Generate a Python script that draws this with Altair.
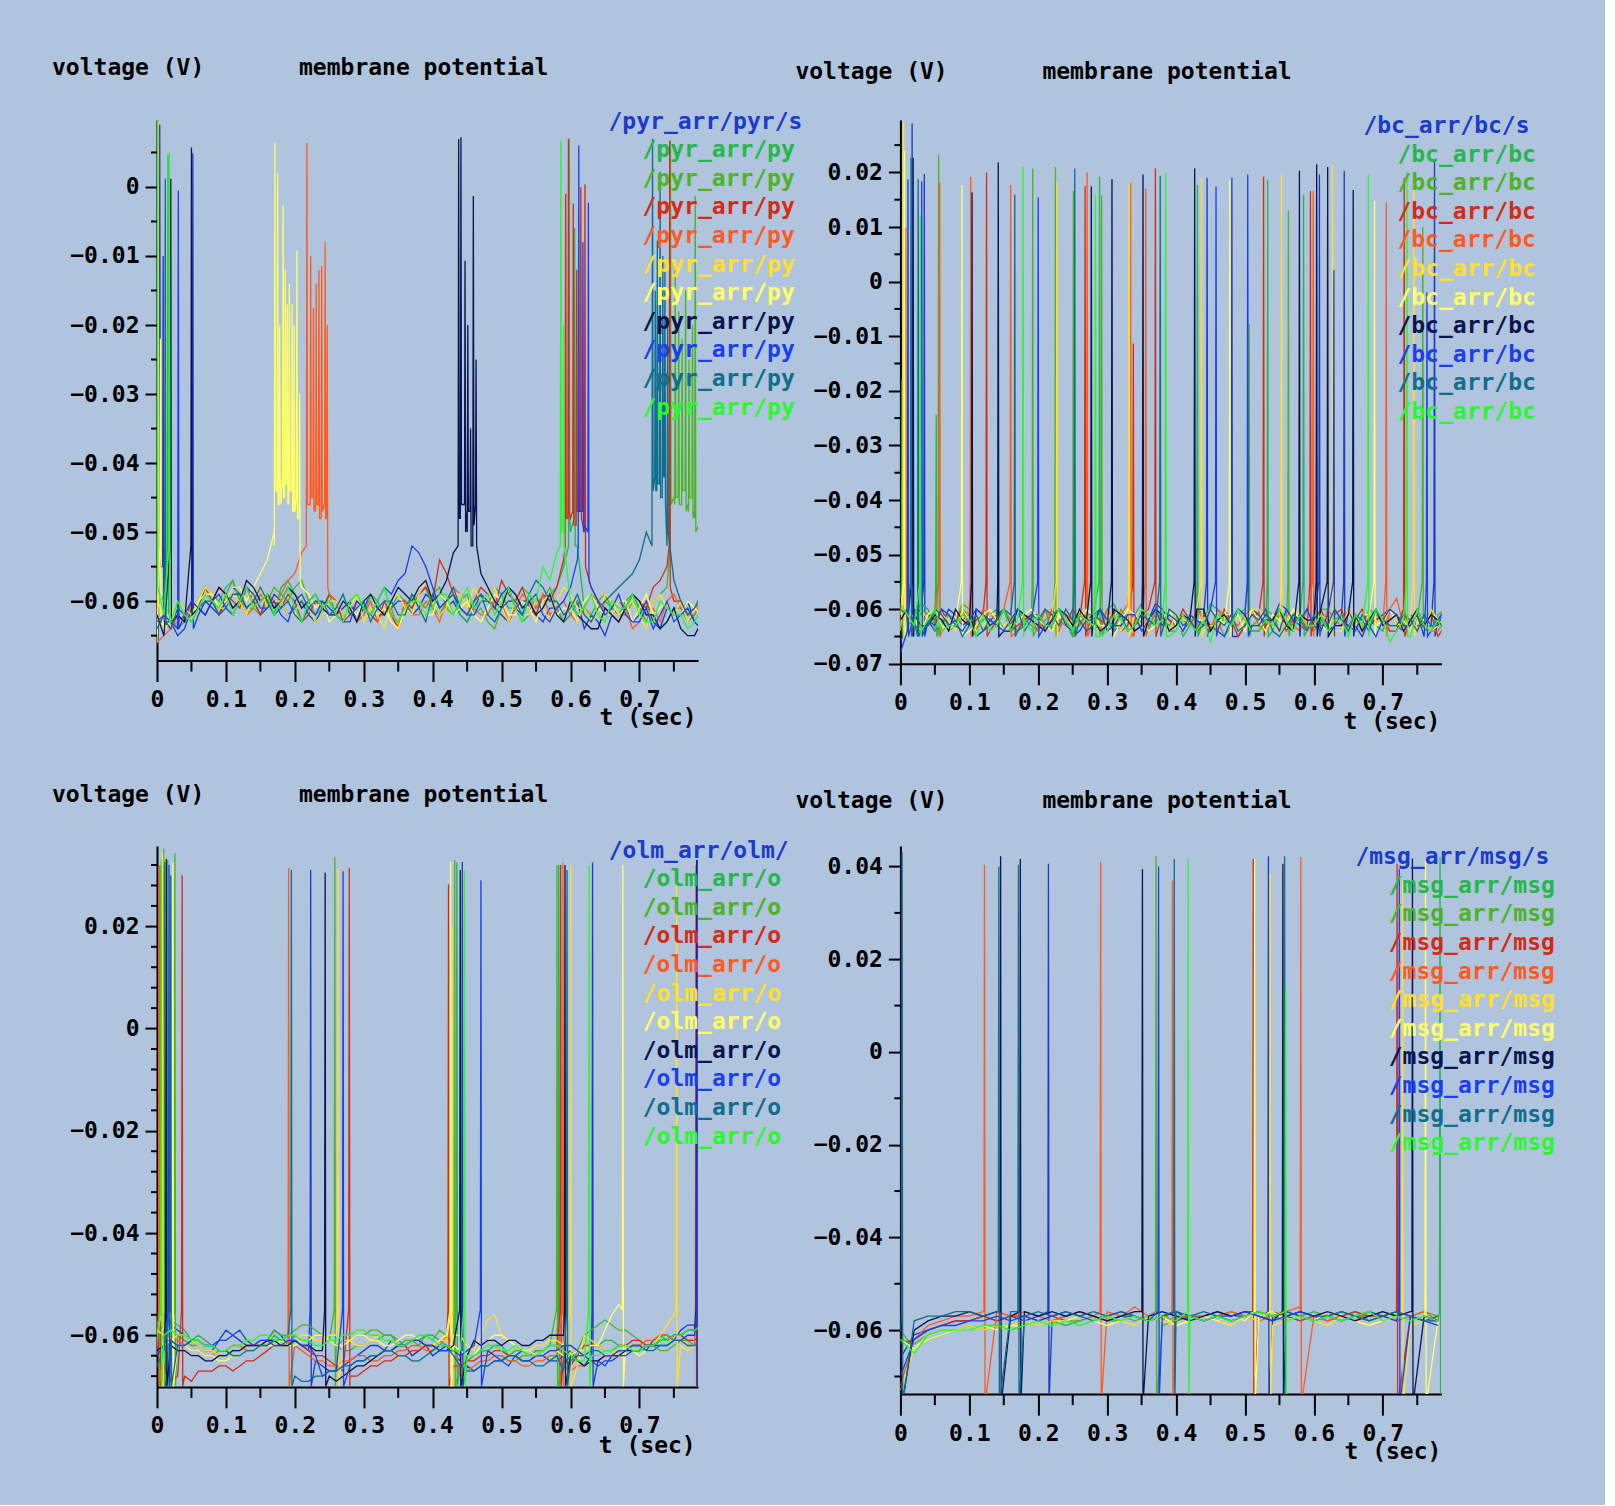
import altair as alt
import pandas as pd

alt.data_transformers.disable_max_rows()

FONT = "DejaVu Sans Mono"
BG = "#B0C4DE"
PAL = ["#1a3cc8", "#22b84a", "#4ab424", "#d42c14", "#ff5a1e", "#ffe02a",
       "#ffff66", "#0a1450", "#1a40ec", "#0f6e8e", "#2af82a"]

# baseline samples (values in mV): even grid 0.00,0.02,... and odd grid 0.01,0.03,...
TIMES = [round(0.02 * i, 2) for i in range(40)]
TIMES_ODD = [round(0.01 + 0.02 * i, 2) for i in range(40)]
X_MAJOR = [0, 0.1, 0.2, 0.3, 0.4, 0.5, 0.6, 0.7]
X_MINOR = [0.05, 0.15, 0.25, 0.35, 0.45, 0.55, 0.65, 0.75]

# ---------------- pyr ----------------
PYR_BASE = [
    "-60 -63 -64 -62 -61 -60 -59 -60 -61 -60  -61 -62 -61 -62 -60 -61 -62 -61 -60 -61  -60 -61 -62 -61 -60 -62 -61 -60 -63 -61  -62 -64 -63 -62 -61 -62 -63 -61 -62 -63",
    "-58 -62 -63 -61 -60 -59 -60 -61 -60 -58  -59 -61 -62 -60 -61 -62 -60 -61 -60 -59  -61 -60 -62 -61 -60 -59 -61 -62 -61 -58  -50 -61 -62 -61 -60 -61 -62 -63 -61 -62",
    "-62 -63 -61 -60 -59 -58 -60 -61 -60 -59  -58 -60 -61 -62 -60 -61 -60 -62 -61 -60  -59 -61 -60 -62 -63 -61 -60 -59 -60 -61  -62 -61 -60 -61 -62 -61 -60 -58 -46 -47",
    "-60 -64 -63 -61 -60 -59 -61 -60 -59 -61  -60 -62 -61 -60 -62 -61 -63 -62 -60 -59  -60 -56 -61 -60 -59 -57 -60 -61 -59 -58  -48 -50 -60 -62 -61 -60 -58 -55 -60 -61",
    "-66 -64 -62 -61 -60 -59 -60 -61 -60 -59  -56 -46 -47 -60 -61 -62 -63 -61 -60 -62  -61 -60 -59 -61 -62 -60 -61 -60 -59 -61  -62 -61 -60 -62 -61 -63 -61 -60 -61 -62",
    "-63 -62 -61 -60 -59 -61 -60 -59 -61 -60  -62 -61 -62 -60 -61 -63 -62 -60 -61 -59  -60 -61 -59 -58 -60 -61 -60 -62 -61 -60  -59 -61 -62 -60 -61 -62 -60 -61 -60 -61",
    "-66 -63 -62 -60 -59 -60 -58 -58 -54 -46  -47 -59 -60 -62 -61 -60 -62 -63 -61 -60  -62 -60 -61 -62 -61 -60 -62 -61 -60 -62  -61 -60 -61 -62 -60 -61 -62 -60 -62 -61",
    "-62 -64 -63 -61 -60 -59 -60 -58 -59 -60  -59 -60 -61 -62 -61 -60 -61 -60 -59 -58  -60 -57 -48 -49 -58 -61 -59 -60 -61 -62  -60 -63 -64 -62 -61 -60 -62 -63 -64 -65",
    "-64 -63 -62 -61 -60 -61 -60 -59 -61 -62  -60 -61 -60 -62 -63 -61 -60 -59 -56 -53  -58 -60 -61 -62 -60 -59 -61 -60 -62 -61  -58 -49 -60 -61 -62 -63 -64 -60 -62 -63",
    "-63 -64 -62 -61 -60 -61 -59 -60 -60 -61  -62 -61 -60 -61 -62 -60 -61 -60 -62 -61  -59 -60 -61 -60 -62 -61 -60 -59 -58 -60  -61 -62 -61 -59 -57 -54 -44 -52 -60 -61",
    "-60 -63 -62 -61 -60 -59 -60 -61 -59 -60  -61 -60 -61 -62 -60 -61 -60 -62 -61 -60  -61 -59 -60 -61 -59 -60 -61 -59 -55 -53  -60 -61 -62 -60 -61 -62 -63 -61 -62 -63",
]
PYR_ODD = [
    "-63 -65 -61 -60 -62 -58 -61 -62 -59 -62  -60 -63 -60 -61 -63 -59 -62 -60 -62 -59  -62 -60 -63 -59 -61 -63 -60 -62 -61 -63  -60 -62 -65 -60 -63 -60 -64 -62 -60 -64",
    "-60 -64 -62 -59 -61 -57 -62 -59 -62 -57  -60 -63 -59 -62 -63 -59 -62 -59 -61 -58  -62 -59 -63 -60 -58 -61 -63 -60 -59 -55  -52 -63 -60 -62 -59 -62 -64 -61 -63 -60",
    "-64 -60 -62 -58 -60 -57 -61 -62 -58 -60  -57 -62 -59 -63 -59 -62 -58 -63 -59 -61  -58 -62 -59 -61 -64 -60 -58 -61 -58 -63  -60 -62 -59 -62 -60 -63 -59 -45 -46 -48",
    "-63 -62 -60 -58 -62 -60 -58 -62 -60 -59  -63 -60 -59 -63 -60 -62 -60 -64 -61 -58  -54 -59 -62 -58 -61 -59 -58 -62 -60 -54  -47 -58 -61 -63 -59 -61 -57 -60 -62 -60",
    "-65 -63 -60 -62 -58 -61 -62 -59 -61 -57  -53 -46 -59 -62 -63 -60 -61 -64 -62 -60  -63 -58 -61 -62 -60 -63 -59 -61 -62 -60  -63 -59 -62 -60 -64 -61 -63 -59 -62 -60",
    "-64 -60 -62 -58 -61 -59 -62 -58 -60 -62  -59 -63 -60 -62 -59 -61 -64 -59 -62 -57  -62 -59 -61 -60 -58 -63 -62 -60 -63 -58  -61 -63 -59 -62 -60 -64 -59 -62 -63 -59",
    "-64 -61 -63 -59 -61 -58 -60 -56 -50 -45  -58 -61 -63 -60 -62 -59 -61 -64 -60 -62  -59 -62 -60 -63 -59 -62 -60 -63 -59 -61  -63 -59 -62 -60 -63 -59 -61 -63 -60 -62",
    "-65 -62 -60 -62 -58 -61 -57 -60 -61 -58  -61 -59 -62 -60 -63 -59 -62 -58 -60 -57  -59 -53 -47 -56 -60 -58 -61 -62 -59 -63  -62 -64 -61 -63 -59 -62 -64 -61 -65 -63",
    "-62 -64 -60 -62 -59 -62 -58 -61 -60 -63  -59 -62 -61 -63 -60 -62 -58 -57 -52 -55  -61 -59 -62 -60 -61 -58 -62 -59 -63 -60  -54 -58 -62 -59 -63 -61 -62 -63 -61 -64",
    "-62 -61 -63 -60 -62 -59 -61 -58 -62 -60  -63 -60 -62 -59 -61 -63 -60 -62 -59 -63  -61 -58 -62 -59 -63 -60 -62 -57 -60 -62  -59 -63 -60 -58 -56 -50 -44 -57 -62 -59",
    "-62 -60 -63 -59 -61 -62 -58 -60 -62 -58  -63 -59 -60 -63 -59 -62 -58 -63 -60 -62  -59 -62 -58 -60 -62 -58 -63 -60 -57 -50  -62 -59 -63 -61 -59 -63 -60 -62 -64 -61",
]
# spikes: (time s, peak mV[, trough mV])
PYR_SPK = [
    [(0.004, 9.0, -55), (0.009, -10, -62), (0.052, 4.9, -64)],
    [(0.016, 4.6, -62), (0.598, 7.0, -48), (0.606, -6, -52)],
    [(0.002, 9.5, -60), (0.745, 6.7, -46), (0.752, -12, -45), (0.757, -18, -46), (0.762, -22, -44),
     (0.767, -15, -47), (0.772, -25, -45), (0.777, -20, -48), (0.781, -1.3, -50)],
    [(0.001, 9.5, -63), (0.593, -1, -48), (0.597, 7.0, -47), (0.604, -2.4, -49), (0.609, -12, -47),
     (0.615, 0, -48), (0.621, 0.4, -55), (0.744, 6.7, -58)],
    [(0.2175, 6.4, -46), (0.223, -10, -45), (0.227, -17.5, -47), (0.231, -14, -46), (0.235, -12, -48),
     (0.239, -11.5, -46), (0.244, -8, -48), (0.247, -20, -58)],
    [(0.0015, 9.6, -60), (0.012, -15, -62)],
    [(0.005, -22, -62), (0.171, 6.4, -44), (0.175, 2, -46), (0.178, -20, -42), (0.183, -2.6, -45),
     (0.186, -12, -43), (0.189, -17, -46), (0.192, -14, -44), (0.196, -17, -47), (0.199, -20, -45),
     (0.203, -9.2, -48), (0.207, -30, -57)],
    [(0.020, 1.2, -63), (0.050, 5.7, -62), (0.4377, 6.9, -48), (0.441, 7.2, -46), (0.447, -10.7, -50),
     (0.451, -20, -47), (0.455, -35, -52), (0.459, -1.3, -46), (0.463, -25, -52)],
    [(0.031, -0.5, -64), (0.612, 6.0, -47), (0.618, -8, -50), (0.626, -2.3, -57)],
    [(0.012, 1.2, -63), (0.719, 7.0, -42), (0.723, -15, -44), (0.726, -7.8, -43), (0.730, 2.2, -45),
     (0.734, -10, -42), (0.737, -12, -46), (0.741, -20, -50)],
    [(0.0003, 9.9, -58), (0.018, 5.0, -63), (0.586, 6.7, -50), (0.590, -20, -52)],
]

# ---------------- bc ----------------
BC_BASE = [
    "-66 -60 -62 -63 -61 -62 -64 -61 -63 -62  -61 -63 -62 -64 -61 -62 -63 -61 -62 -60  -63 -62 -61 -64 -62 -63 -61 -62 -60 -63  -62 -64 -61 -63 -62 -61 -63 -62 -64 -62",
    "-58 -61 -60 -62 -63 -61 -62 -60 -63 -62  -64 -61 -62 -63 -61 -60 -62 -63 -64 -62  -61 -63 -62 -60 -61 -63 -62 -64 -63 -61  -62 -60 -61 -63 -62 -64 -62 -61 -63 -62",
    "-60 -62 -61 -63 -62 -60 -61 -63 -62 -61  -63 -64 -62 -61 -63 -62 -60 -61 -63 -62  -64 -63 -61 -62 -63 -60 -62 -61 -63 -62  -64 -63 -62 -61 -60 -62 -63 -64 -62 -61",
    "-62 -63 -61 -60 -62 -63 -61 -62 -64 -62  -61 -60 -63 -62 -61 -63 -64 -62 -60 -61  -63 -62 -61 -64 -62 -63 -61 -62 -64 -61  -62 -63 -60 -62 -63 -61 -64 -62 -63 -65",
    "-63 -61 -62 -64 -63 -61 -60 -62 -63 -61  -64 -62 -61 -63 -62 -60 -61 -64 -63 -62  -61 -63 -62 -60 -62 -61 -63 -62 -61 -64  -62 -60 -63 -62 -61 -63 -58 -62 -63 -64",
    "-61 -63 -62 -61 -64 -62 -63 -61 -62 -64  -63 -61 -62 -60 -63 -62 -64 -61 -62 -63  -61 -62 -64 -63 -61 -62 -60 -63 -62 -61  -63 -62 -64 -62 -61 -63 -62 -61 -64 -62",
    "-64 -62 -61 -63 -62 -64 -61 -62 -63 -61  -62 -64 -63 -62 -61 -63 -62 -61 -64 -62  -63 -61 -62 -61 -63 -64 -62 -61 -63 -62  -61 -64 -62 -63 -61 -62 -63 -64 -62 -63",
    "-62 -61 -63 -62 -60 -63 -61 -62 -64 -61  -63 -62 -61 -60 -62 -63 -61 -64 -62 -61  -63 -62 -60 -62 -63 -61 -64 -62 -63 -61  -62 -64 -63 -61 -62 -63 -61 -62 -63 -62",
    "-68 -61 -62 -60 -63 -62 -61 -63 -62 -64  -61 -62 -63 -61 -62 -64 -63 -61 -62 -63  -62 -61 -63 -64 -62 -61 -63 -62 -60 -62  -63 -61 -62 -64 -63 -62 -61 -63 -65 -62",
    "-60 -62 -63 -61 -62 -63 -64 -62 -61 -63  -62 -61 -60 -62 -63 -62 -61 -63 -62 -64  -61 -62 -63 -62 -61 -63 -62 -64 -63 -62  -61 -63 -62 -61 -64 -62 -63 -62 -61 -63",
    "-59 -63 -62 -64 -63 -62 -61 -63 -64 -62  -61 -63 -62 -61 -63 -64 -62 -63 -61 -62  -64 -63 -62 -61 -63 -62 -64 -63 -62 -61  -63 -64 -62 -61 -63 -62 -64 -65 -63 -62",
]
BC_ODD = [
    "-63 -61 -64 -60 -63 -65 -62 -60 -64 -61  -63 -60 -65 -62 -60 -64 -61 -63 -59 -62  -64 -60 -63 -61 -65 -60 -63 -59 -62 -64  -61 -63 -60 -65 -62 -60 -64 -61 -63 -60",
    "-62 -59 -63 -64 -60 -63 -61 -64 -60 -63  -62 -60 -64 -61 -63 -59 -64 -62 -60 -63  -65 -61 -59 -62 -64 -60 -63 -61 -62 -64  -60 -62 -64 -61 -63 -60 -64 -62 -60 -63",
    "-63 -60 -64 -61 -59 -63 -62 -60 -64 -62  -60 -63 -65 -62 -60 -64 -62 -59 -62 -64  -61 -60 -63 -65 -61 -63 -60 -64 -61 -63  -62 -60 -63 -64 -61 -63 -60 -62 -64 -60",
    "-61 -64 -62 -63 -60 -62 -64 -60 -63 -61  -64 -62 -60 -64 -62 -60 -63 -61 -64 -62  -60 -64 -63 -60 -65 -61 -63 -60 -62 -64  -60 -61 -64 -60 -62 -64 -60 -63 -61 -63",
    "-62 -64 -60 -63 -62 -64 -61 -60 -64 -62  -60 -64 -62 -60 -64 -62 -59 -63 -61 -64  -62 -60 -64 -61 -63 -60 -64 -61 -63 -60  -64 -62 -60 -64 -62 -60 -63 -61 -64 -62",
    "-64 -60 -63 -62 -60 -64 -61 -63 -60 -62  -64 -60 -63 -61 -64 -60 -62 -63 -60 -64  -62 -60 -63 -61 -64 -60 -62 -64 -60 -63  -61 -64 -60 -63 -62 -60 -64 -62 -60 -63",
    "-62 -64 -60 -64 -61 -63 -60 -64 -62 -60  -63 -61 -64 -60 -63 -65 -60 -62 -63 -60  -64 -62 -60 -63 -61 -60 -64 -62 -60 -64  -63 -60 -64 -61 -63 -60 -62 -61 -64 -61",
    "-60 -63 -61 -64 -62 -60 -63 -64 -60 -62  -64 -60 -63 -62 -64 -60 -62 -63 -60 -64  -61 -60 -64 -61 -60 -64 -62 -60 -64 -62  -60 -63 -61 -64 -60 -62 -64 -60 -61 -64",
    "-64 -60 -63 -61 -64 -60 -62 -64 -60 -62  -63 -60 -64 -62 -60 -63 -61 -64 -60 -61  -64 -62 -60 -65 -60 -63 -61 -64 -62 -60  -64 -60 -63 -61 -65 -60 -63 -61 -64 -60",
    "-61 -64 -60 -63 -65 -61 -63 -60 -64 -61  -60 -63 -62 -64 -60 -63 -64 -61 -63 -60  -63 -64 -60 -63 -64 -61 -60 -65 -61 -64  -63 -60 -64 -62 -60 -63 -61 -64 -63 -60",
    "-61 -64 -60 -63 -61 -65 -64 -60 -62 -64  -63 -60 -64 -62 -65 -61 -64 -60 -63 -65  -61 -64 -66 -62 -60 -64 -62 -60 -64 -63  -61 -62 -65 -63 -60 -66 -62 -60 -64 -65",
]
BC_SPK = [
    [(0.017, 29), (0.0347, 19.7), (0.445, 19), (0.481, 19), (0.608, 19.6), (0.644, 20.3), (0.775, 22)],
    [(0.0023, -17.9), (0.052, -24.4), (0.289, 19.2), (0.431, 17.7), (0.533, 18.6), (0.585, 15.9)],
    [(0.0555, 23.3), (0.192, 20.7), (0.225, 21), (0.251, 16.6), (0.292, 15.8), (0.506, -7.8),
     (0.563, 13), (0.758, 10)],
    [(0.125, 20), (0.268, 17.5), (0.338, -11.3), (0.370, 20.7), (0.527, 19.2), (0.595, 16.6), (0.731, 19)],
    [(0.0078, 9.9), (0.057, 18.1), (0.102, 19.2), (0.160, 17.7), (0.271, 20), (0.334, 18.1),
     (0.356, 17), (0.599, 16.6), (0.705, 14.5)],
    [(0.0045, 29.2), (0.227, 18.1), (0.332, 18.1), (0.437, 19), (0.553, 19.6), (0.627, 21.3), (0.745, 18)],
    [(0.006, 24), (0.0893, 17.7), (0.478, 18.6), (0.688, 14.8)],
    [(0.0185, 22.7), (0.104, 16.3), (0.142, 21.8), (0.277, 17.4), (0.307, 18.8), (0.352, 19.6),
     (0.427, 20.7), (0.579, 20.3), (0.604, 21.5), (0.620, 21), (0.657, 16.8)],
    [(0.011, 18.7), (0.031, 18.4), (0.200, 15.4), (0.458, 17.4), (0.504, 19.6), (0.629, 2.1), (0.764, -2)],
    [(0.0154, 22.7), (0.0258, 18.8), (0.166, 15.9), (0.253, 20.7), (0.377, 19.4)],
    [(0.029, 12.2), (0.178, 21), (0.283, 15.9), (0.385, 19.9), (0.679, 19.6), (0.735, 20)],
]

# ---------------- olm ----------------
OLM_BASE = [
    "-62 -58 -60 -62 -63 -59 -61 -62 -61 -60  -61 -63 -66 -67 -65 -63 -62 -61 -62 -63  -64 -62 -65 -67 -66 -65 -64 -63 -64 -65  -63 -66 -65 -64 -63 -62 -61 -60 -59 -58",
    "-60 -57 -59 -60 -62 -63 -64 -63 -62 -61  -60 -61 -60 -62 -63 -62 -61 -60 -62 -61  -60 -62 -66 -64 -63 -62 -63 -64 -63 -62  -64 -63 -62 -61 -62 -63 -62 -61 -60 -61",
    "-58 -60 -61 -62 -63 -64 -63 -62 -61 -60  -59 -58 -60 -62 -61 -60 -59 -60 -61 -62  -61 -60 -66 -64 -63 -64 -65 -64 -63 -62  -66 -60 -58 -58 -59 -61 -62 -63 -61 -62",
    "-64 -69 -68 -67 -67 -66 -66 -65 -63 -62  -61 -63 -64 -66 -68 -67 -66 -65 -64 -63  -62 -61 -66 -65 -64 -63 -64 -65 -64 -63  -66 -62 -62 -63 -62 -61 -62 -61 -60 -61",
    "-62 -60 -62 -63 -64 -63 -62 -63 -62 -61  -62 -64 -65 -66 -65 -64 -65 -64 -63 -62  -63 -60 -68 -66 -65 -64 -65 -66 -65 -64  -67 -66 -65 -64 -63 -62 -61 -60 -61 -62",
    "-60 -61 -60 -62 -63 -64 -63 -62 -61 -62  -61 -60 -61 -60 -61 -62 -60 -61 -62 -61  -62 -61 -60 -63 -57 -60 -62 -63 -62 -61  -63 -60 -62 -63 -64 -63 -62 -58 -62 -62",
    "-59 -61 -62 -63 -64 -65 -64 -63 -62 -61  -62 -61 -60 -62 -61 -60 -61 -62 -60 -61  -62 -60 -63 -64 -61 -60 -62 -63 -64 -63  -64 -63 -62 -56 -62 -64 -63 -62 -61 -62",
    "-63 -62 -63 -64 -65 -64 -63 -62 -61 -62  -61 -62 -63 -69 -67 -66 -64 -63 -62 -61  -62 -63 -62 -61 -61 -62 -61 -62 -61 -60  -64 -66 -65 -64 -63 -63 -62 -61 -60 -59",
    "-64 -61 -62 -61 -62 -61 -59 -62 -61 -62  -61 -62 -68 -67 -66 -65 -64 -63 -62 -61  -62 -63 -64 -62 -63 -65 -64 -65 -64 -63  -62 -64 -66 -65 -64 -63 -62 -62 -61 -60",
    "-66 -61 -62 -61 -62 -63 -64 -63 -62 -61  -68 -69 -68 -67 -66 -65 -64 -63 -64 -65  -63 -62 -66 -67 -66 -65 -64 -65 -66 -64  -65 -64 -63 -64 -63 -62 -63 -62 -61 -62",
    "-61 -59 -60 -61 -62 -63 -62 -61 -60 -61  -60 -61 -62 -61 -60 -59 -60 -61 -62 -60  -61 -62 -63 -64 -62 -63 -62 -64 -63 -62  -64 -65 -64 -63 -62 -63 -62 -61 -60 -59",
]
OLM_ODD = [
    "-60 -59 -61 -63 -61 -60 -62 -61 -59 -62  -62 -65 -67 -66 -64 -62 -63 -62 -64 -62  -63 -64 -66 -66 -65 -66 -63 -64 -65 -64  -65 -64 -66 -63 -62 -63 -60 -61 -58 -59",
    "-58 -58 -61 -61 -63 -64 -63 -62 -60 -62  -61 -60 -61 -63 -62 -61 -60 -61 -61 -60  -61 -63 -65 -63 -62 -64 -63 -63 -62 -66  -63 -62 -61 -62 -63 -62 -60 -60 -61 -60",
    "-61 -60 -62 -63 -64 -63 -62 -61 -59 -60  -58 -59 -61 -61 -60 -59 -60 -62 -61 -60  -59 -62 -65 -63 -64 -65 -64 -63 -62 -65  -63 -59 -57 -59 -60 -62 -63 -62 -61 -60",
    "-66 -68 -69 -67 -66 -67 -65 -64 -62 -61  -62 -64 -65 -67 -68 -66 -65 -64 -63 -62  -61 -66 -65 -64 -63 -64 -65 -64 -63 -64  -64 -62 -63 -62 -61 -62 -61 -60 -61 -60",
    "-61 -61 -63 -64 -63 -62 -63 -62 -61 -62  -63 -65 -66 -65 -64 -65 -64 -63 -62 -63  -62 -61 -67 -65 -64 -65 -66 -65 -64 -66  -66 -65 -64 -63 -62 -61 -60 -61 -62 -61",
    "-62 -60 -61 -63 -64 -63 -62 -61 -62 -61  -60 -61 -60 -61 -62 -61 -61 -62 -61 -62  -61 -60 -62 -60 -56 -61 -63 -62 -61 -62  -66 -61 -63 -64 -63 -62 -60 -56 -63 -61",
    "-60 -62 -63 -64 -65 -64 -63 -62 -62 -62  -61 -60 -61 -62 -60 -61 -62 -61 -60 -62  -61 -62 -64 -62 -60 -61 -63 -64 -63 -64  -63 -62 -59 -54 -63 -63 -62 -61 -62 -61",
    "-62 -63 -64 -65 -64 -63 -62 -62 -61 -62  -62 -63 -68 -68 -66 -65 -63 -62 -61 -62  -63 -62 -64 -62 -61 -61 -62 -61 -60 -60  -65 -65 -64 -64 -63 -62 -61 -60 -59 -58",
    "-62 -62 -61 -62 -61 -60 -61 -61 -62 -61  -62 -64 -67 -66 -65 -64 -63 -62 -61 -62  -63 -63 -63 -64 -64 -64 -65 -64 -63 -62  -63 -65 -65 -64 -63 -62 -62 -61 -60 -59",
    "-63 -62 -61 -62 -63 -64 -63 -62 -61 -60  -69 -68 -67 -66 -65 -64 -63 -64 -65 -64  -62 -64 -67 -66 -65 -64 -65 -66 -65 -67  -64 -63 -64 -63 -62 -63 -62 -61 -62 -61",
    "-60 -60 -61 -62 -63 -62 -61 -60 -61 -60  -61 -62 -61 -60 -59 -60 -61 -62 -61 -60  -62 -63 -64 -63 -62 -63 -63 -64 -62 -63  -65 -64 -63 -62 -63 -62 -61 -60 -59 -58",
]
OLM_SPK = [
    [(0.011, 32.6), (0.223, 31), (0.443, 32.6), (0.632, 32.5)],
    [(0.0155, 33), (0.435, 32.5), (0.583, 32)],
    [(0.0097, 35.2), (0.026, 34.3), (0.258, 33.5), (0.432, 33), (0.5805, 32)],
    [(0.0045, 32), (0.0365, 30), (0.279, 31.4), (0.423, 28.2), (0.5857, 32)],
    [(0.003, 31.5), (0.191, 31.4), (0.589, 32.5), (0.782, 32)],
    [(0.0082, 34.4), (0.263, 31.4), (0.428, 20), (0.600, 32), (0.754, 30.8)],
    [(0.023, 32.5), (0.426, 32.6), (0.676, 32)],
    [(0.0135, 33.2), (0.244, 30.5), (0.440, 31), (0.592, 32), (0.783, 33)],
    [(0.0175, 32), (0.270, 30.8), (0.470, 29), (0.784, 33)],
    [(0.020, 30), (0.195, 31), (0.595, 31)],
    [(0.006, 33), (0.446, 31), (0.627, 32)],
]

# ---------------- msg ----------------
MSG_BASE = [
    "-66 -61 -60 -59 -58 -58 -57 -58 -57 -58  -57 -58 -57 -56 -57 -58 -57 -57 -58 -57  -56 -58 -57 -56 -57 -57 -58 -57 -56 -57  -58 -57 -56 -57 -58 -57 -56 -57 -58 -58",
    "-62 -63 -61 -60 -60 -59 -60 -59 -59 -58  -59 -58 -59 -58 -57 -58 -58 -57 -58 -57  -58 -57 -58 -57 -56 -57 -58 -57 -58 -57  -56 -57 -58 -57 -57 -56 -57 -58 -57 -58",
    "-60 -64 -62 -61 -60 -60 -59 -59 -60 -59  -58 -59 -58 -58 -57 -58 -57 -58 -57 -59  -58 -57 -58 -57 -58 -57 -56 -58 -57 -58  -57 -58 -57 -56 -58 -57 -58 -57 -56 -57",
    "-63 -62 -60 -59 -58 -58 -57 -58 -57 -57  -58 -57 -58 -57 -58 -57 -58 -57 -58 -57  -58 -57 -57 -58 -57 -56 -57 -56 -57 -58  -57 -58 -57 -56 -57 -57 -58 -57 -58 -57",
    "-72 -62 -59 -58 -57 -57 -56 -56 -57 -56  -57 -58 -57 -56 -57 -56 -57 -55 -57 -58  -57 -57 -58 -57 -56 -57 -58 -57 -56 -55  -57 -58 -57 -58 -56 -57 -58 -57 -56 -58",
    "-73 -64 -61 -60 -60 -59 -60 -59 -59 -58  -59 -58 -58 -57 -58 -57 -58 -59 -57 -58  -59 -58 -57 -58 -59 -57 -58 -59 -58 -57  -58 -59 -57 -58 -59 -58 -57 -59 -58 -57",
    "-62 -64 -62 -61 -60 -60 -59 -60 -59 -59  -58 -59 -58 -57 -58 -59 -58 -57 -58 -57  -59 -58 -57 -58 -57 -58 -57 -56 -58 -57  -58 -56 -57 -58 -59 -58 -57 -58 -57 -58",
    "-55 -60 -58 -57 -57 -56 -57 -56 -57 -56  -57 -56 -57 -56 -57 -58 -57 -56 -57 -56  -57 -58 -57 -56 -57 -56 -57 -58 -57 -56  -57 -56 -57 -58 -57 -56 -57 -56 -57 -58",
    "-70 -62 -60 -59 -59 -58 -58 -57 -58 -57  -58 -57 -56 -57 -58 -57 -56 -57 -58 -57  -56 -57 -58 -57 -57 -56 -57 -58 -57 -56  -57 -57 -58 -57 -56 -57 -58 -57 -58 -59",
    "-60 -58 -57 -57 -56 -56 -57 -56 -56 -57  -56 -57 -56 -57 -56 -57 -56 -57 -58 -57  -56 -57 -56 -57 -58 -57 -56 -57 -56 -57  -58 -57 -56 -57 -58 -57 -56 -57 -58 -57",
    "-62 -65 -61 -60 -60 -60 -59 -59 -60 -59  -58 -59 -58 -59 -58 -57 -58 -57 -58 -57  -58 -57 -58 -57 -58 -57 -56 -57 -58 -57  -58 -57 -58 -57 -56 -58 -57 -58 -57 -58",
]
MSG_SPK = [
    [(0.2148, 40.6), (0.534, 42.2)],
    [(0.783, 42)],
    [(0.371, 42.2)],
    [(0.512, 41.6), (0.7207, 40.6)],
    [(0.122, 40.4), (0.2906, 41), (0.3948, 37), (0.581, 42)],
    [(0.5365, 38.5), (0.7286, 36.8)],
    [(0.514, 41.6), (0.762, 41.3)],
    [(0.0015, 43), (0.1454, 42.2), (0.174, 41.6), (0.3512, 39.4), (0.555, 40.6), (0.743, 41.7)],
    [(0.3746, 40), (0.724, 39.4)],
    [(0.0025, 43), (0.1428, 40), (0.1713, 40.4), (0.3974, 41.6), (0.5575, 42.2)],
    [(0.4176, 41.6), (0.559, 13.8)],
]


def build(base, spikes, foot_mv, trough_mv, odd=None):
    rows = []
    for k in range(11):
        sp = spikes[k]
        samples = list(zip(TIMES, [float(v) for v in base[k].split()]))
        if odd is not None:
            samples += list(zip(TIMES_ODD, [float(v) for v in odd[k].split()]))
        pts = [(t, v) for t, v in samples
               if all(abs(t - s[0]) > 0.0009 for s in sp)]
        prev_t, prev_tr = -1.0, None
        for s in sp:
            t, p = s[0], s[1]
            tr = s[2] if len(s) > 2 else trough_mv
            foot = prev_tr if (prev_tr is not None and t - prev_t < 0.012) else foot_mv
            if t - 0.0008 > 0:
                pts.append((t - 0.0008, foot))
            pts.append((t, p))
            pts.append((t + 0.0008, tr))
            prev_t, prev_tr = t, tr
        pts.sort()
        for t, v in pts:
            rows.append({"t": t, "v": v / 1000.0, "k": k})
    return pd.DataFrame(rows)


W = 541
FS = 23


def text_layer(s, x, y, align="left"):
    return alt.Chart(pd.DataFrame({"s": [s]})).mark_text(
        align=align, baseline="alphabetic", font=FONT, fontSize=FS,
        fontWeight="bold", color="black"
    ).encode(x=alt.value(x), y=alt.value(y), text="s:N")


def panel(df, sp):
    H = sp["height"]
    xsc = alt.Scale(domain=[0, 0.785], nice=False, zero=False)
    ysc = alt.Scale(domain=sp["ydom"], nice=False, zero=False)
    xaxis = alt.Axis(values=X_MAJOR, format=".1~f", tickSize=21,
                     labelPadding=7, title=None)
    lines = alt.Chart(df).mark_line(clip=True, strokeWidth=1.3).encode(
        x=alt.X("t:Q", scale=xsc, axis=xaxis),
        y=alt.Y("v:Q", scale=ysc,
                axis=alt.Axis(values=sp["ymaj"], format=".2~f", tickSize=12,
                              labelPadding=6, title=None)),
        color=alt.Color("k:N", scale=alt.Scale(domain=list(range(11)), range=PAL),
                        legend=None),
    )
    xminor = alt.Chart(pd.DataFrame({"t": X_MINOR})).mark_rule(
        color="black", strokeWidth=2).encode(
        x=alt.X("t:Q", scale=xsc, axis=xaxis),
        y=alt.value(H), y2=alt.value(H + 11))
    yminor = alt.Chart(pd.DataFrame({"v": sp["ymin"]})).mark_rule(
        color="black", strokeWidth=2).encode(
        y=alt.Y("v:Q", scale=ysc, axis=None),
        x=alt.value(-6), x2=alt.value(0))

    leg = pd.DataFrame({"row": list(range(11)),
                        "label": [sp["first"]] + [sp["rest"]] * 10,
                        "c": PAL})
    lsc = alt.Scale(domain=[0, 10], range=[sp["ly"], sp["ly"] + 10 * 28.6])

    def legend_part(d, x):
        return alt.Chart(d).mark_text(
            align="left", baseline="alphabetic", font=FONT, fontSize=FS,
            fontWeight="bold").encode(
            x=alt.value(x),
            y=alt.Y("row:Q", scale=lsc, axis=None),
            text="label:N",
            color=alt.Color("c:N", scale=None))

    leg1 = legend_part(leg.iloc[:1], sp["lx1"])
    leg2 = legend_part(leg.iloc[1:], sp["lx2"])
    t1 = text_layer("voltage (V)", -105, sp["ty"])
    t2 = text_layer("membrane potential", 142, sp["ty"])
    t3 = text_layer("t (sec)", sp["tx"], H + sp["tdy"], align="right")
    return alt.layer(lines, xminor, yminor, leg1, leg2, t1, t2, t3).resolve_scale(
        y="independent", color="independent").properties(width=W, height=H)


SPECS = [
    dict(height=540.5, ydom=[-0.0686, 0.0097],
         ymaj=[-0.06, -0.05, -0.04, -0.03, -0.02, -0.01, 0],
         ymin=[-0.065, -0.055, -0.045, -0.035, -0.025, -0.015, -0.005, 0.005],
         first="/pyr_arr/pyr/s", rest="/pyr_arr/py", lx1=451.5, lx2=485.5, ly=8.5,
         ty=-45, tx=539.5, tdy=64),
    dict(height=543.8, ydom=[-0.07, 0.0296],
         ymaj=[-0.07, -0.06, -0.05, -0.04, -0.03, -0.02, -0.01, 0, 0.01, 0.02],
         ymin=[-0.065, -0.055, -0.045, -0.035, -0.025, -0.015, -0.005, 0.005, 0.015, 0.025],
         first="/bc_arr/bc/s", rest="/bc_arr/bc", lx1=463, lx2=497, ly=13,
         ty=-41, tx=540, tdy=64.7),
    dict(height=540.8, ydom=[-0.0701, 0.0357],
         ymaj=[-0.06, -0.04, -0.02, 0, 0.02],
         ymin=[-0.068, -0.064, -0.056, -0.052, -0.048, -0.044, -0.036, -0.032, -0.028,
               -0.024, -0.016, -0.012, -0.008, -0.004, 0.004, 0.008, 0.012, 0.016,
               0.024, 0.028, 0.032],
         first="/olm_arr/olm/", rest="/olm_arr/o", lx1=451.7, lx2=485.7, ly=11.4,
         ty=-44, tx=538.7, tdy=65.6),
    dict(height=548, ydom=[-0.0738, 0.0444],
         ymaj=[-0.06, -0.04, -0.02, 0, 0.02, 0.04],
         ymin=[-0.07, -0.05, -0.03, -0.01, 0.01, 0.03],
         first="/msg_arr/msg/s", rest="/msg_arr/msg", lx1=455, lx2=488.3, ly=18,
         ty=-38, tx=541, tdy=64.6),
]

DATA = [
    build(PYR_BASE, PYR_SPK, -52, -63, PYR_ODD),
    build(BC_BASE, BC_SPK, -55, -65, BC_ODD),
    build(OLM_BASE, OLM_SPK, -55, -70, OLM_ODD),
    build(MSG_BASE, MSG_SPK, -56, -76),
]

panels = [panel(d, s) for d, s in zip(DATA, SPECS)]

chart = alt.concat(
    *panels, columns=2, spacing={"row": 182.1, "column": 202.4}, bounds="flush"
).properties(
    padding={"left": 52, "top": 57, "right": 50, "bottom": 41},
    background=BG,
).configure_view(stroke=None).configure_axis(
    domainColor="black", domainWidth=2, tickColor="black", tickWidth=2,
    labelColor="black", labelFont=FONT, labelFontSize=FS, labelFontWeight="bold",
    grid=False, labelFlush=False, labelOverlap=False,
)

chart.save("out.html", embed_options={"renderer": "svg", "actions": False})
